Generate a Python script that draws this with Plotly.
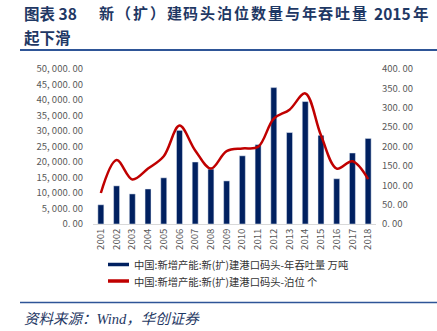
import plotly.graph_objects as go

years = [str(y) for y in range(2001, 2019)]
throughput = [6200, 12300, 9700, 11300, 14900, 30200, 20000, 17700, 13900, 22000,
              25600, 44000, 29500, 39500, 28600, 14600, 22900, 27600]
berths = [80, 165, 115, 143, 175, 254, 190, 143, 188, 195,
          199, 272, 295, 337, 229, 143, 162, 116]

left_ticks = [0, 5000, 10000, 15000, 20000, 25000, 30000, 35000, 40000, 45000, 50000]
left_text = ["0. 00", "5, 000. 00", "10, 000. 00", "15, 000. 00", "20, 000. 00", "25, 000. 00",
             "30, 000. 00", "35, 000. 00", "40, 000. 00", "45, 000. 00", "50, 000. 00"]
right_ticks = [0, 50, 100, 150, 200, 250, 300, 350, 400]
right_text = ["0. 00", "50. 00", "100. 00", "150. 00", "200. 00", "250. 00", "300. 00", "350. 00", "400. 00"]

legend_names = ["中国:新增产能:新(扩)建港口码头-年吞吐量 万吨",
                "中国:新增产能:新(扩)建港口码头-泊位 个"]

title_mid = "新（扩）建码头泊位数量与年吞吐量"

NAVY = "#002060"
RED = "#C00000"
TITLE_C = "#1F3864"
TICK_C = "#595959"
FONT = "Noto Sans CJK SC"

fig = go.Figure()
fig.add_trace(go.Bar(x=years, y=throughput, marker_color=NAVY, width=0.38,
                     name=legend_names[0], showlegend=False))
fig.add_trace(go.Scatter(x=years, y=berths, mode="lines", yaxis="y2",
                         line=dict(color=RED, width=2.5, shape="spline", smoothing=1.0),
                         name=legend_names[1], showlegend=False))

W, H = 437, 331
ml, mr, mt, mb = 93, 61, 69, 107

fig.update_layout(
    width=W, height=H,
    margin=dict(l=ml, r=mr, t=mt, b=mb),
    paper_bgcolor="white", plot_bgcolor="white",
    font=dict(family=FONT, color=TICK_C, size=9),
    bargap=0.6,
    xaxis=dict(type="category", tickangle=-90, showgrid=False, showline=True,
               linecolor="#D9D9D9", linewidth=1, ticks="", tickfont=dict(size=9.5, color=TICK_C)),
    yaxis=dict(range=[0, 50000], tickvals=left_ticks, ticktext=left_text, showgrid=False,
               zeroline=False, showline=False, ticks="", ticklabelstandoff=9,
               tickfont=dict(size=9.5, color=TICK_C)),
    yaxis2=dict(range=[0, 400], tickvals=right_ticks, ticktext=right_text, overlaying="y",
                side="right", showgrid=False, zeroline=False, showline=False, ticks="",
                ticklabelstandoff=5, tickfont=dict(size=9.5, color=TICK_C)),
)

def px_x(x):
    return (x - ml) / (W - ml - mr)

def px_y(y):
    return (H - mb - y) / (H - mt - mb)

shapes = []
annotations = []

def title_text(xx, yy, txt, sz=15.5):
    annotations.append(dict(x=px_x(xx), y=px_y(yy), xref="paper", yref="paper", xanchor="left",
                            yanchor="middle", showarrow=False, text="<b>" + txt + "</b>",
                            font=dict(family=FONT, size=sz, color=TITLE_C)))

title_text(22, 13, "图表 38")
pitch = 270 / len(title_mid)
for i, ch in enumerate(title_mid):
    title_text(97 + i * pitch, 13, ch, 15)
title_text(372, 13, "2015")
title_text(411, 13, "年")
title_text(22, 37, "起下滑")

# top and bottom rules
shapes.append(dict(type="line", xref="paper", yref="paper", x0=px_x(20), x1=px_x(437),
                   y0=px_y(50), y1=px_y(50), line=dict(color="#2E5597", width=2)))
shapes.append(dict(type="line", xref="paper", yref="paper", x0=px_x(20), x1=px_x(437),
                   y0=px_y(302.5), y1=px_y(302.5), line=dict(color="#2E5597", width=1.5)))
# legend
for i, (yy, col) in enumerate([(264.5, NAVY), (281, RED)]):
    shapes.append(dict(type="line", xref="paper", yref="paper", x0=px_x(108), x1=px_x(129),
                       y0=px_y(yy), y1=px_y(yy), line=dict(color=col, width=3.5)))
    annotations.append(dict(x=px_x(132), y=px_y(yy), xref="paper", yref="paper", xanchor="left",
                            yanchor="middle", showarrow=False, text=legend_names[i],
                            font=dict(family=FONT, size=10.3, color="#333333")))
# source
annotations.append(dict(x=px_x(22), y=px_y(319), xref="paper", yref="paper", xanchor="left",
                        yanchor="middle", showarrow=False,
                        text="<i>资料来源：Wind，华创证券</i>",
                        font=dict(family="Liberation Serif, Noto Sans CJK SC", size=14.5, color=TITLE_C)))

fig.update_layout(shapes=shapes, annotations=annotations)
fig.write_html("out.html")
